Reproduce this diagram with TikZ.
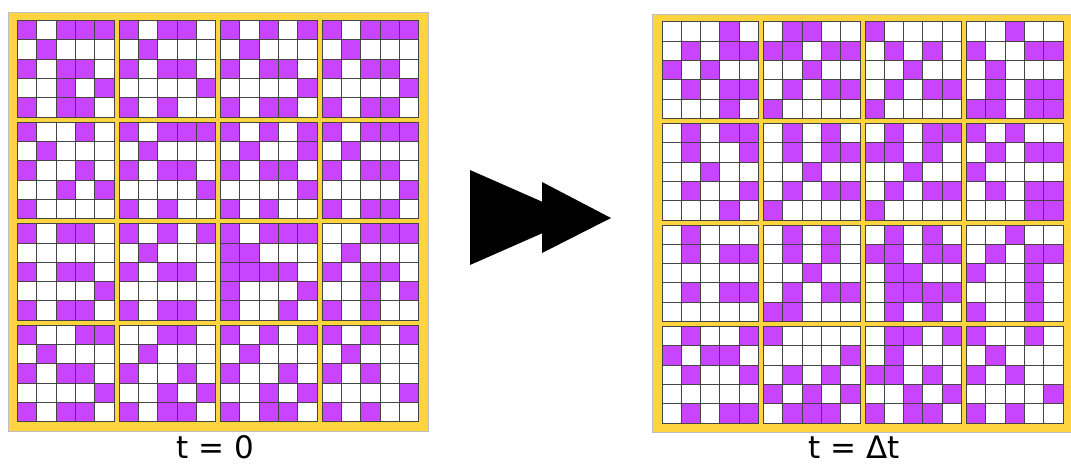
\documentclass[tikz,border=0pt]{standalone}
\usepackage{fontspec}
\setmainfont{DejaVu Sans}
\usepackage{tikz}
\usetikzlibrary{positioning,calc}
\definecolor{mauve}{HTML}{C944FF}
\definecolor{frame}{HTML}{FFD43F}
\definecolor{cellrule}{HTML}{444444}

\begin{document}
\begin{tikzpicture}[x=0.5pt, y=-0.5pt,
  cell/.style={draw=cellrule, line width=0.5pt},
  label/.style={font=\fontsize{15.5}{18}\selectfont, anchor=base, inner sep=0pt}]
\useasboundingbox (0,0) rectangle (1071,465);

% ---------- grid at t = 0
\fill[frame, draw=black!25, line width=0.4pt] (8,12) rectangle (428,431);
\begin{scope}[shift={(17.6,20.7)}]
  \foreach \row [count=\r, evaluate=\r as \yy using {(\r-1)*19.3+5*floor((\r-1)/5)}] in {
    {1,0,1,1,1, 1,0,1,1,0, 1,0,1,0,1, 1,0,1,1,1},
    {0,1,0,0,0, 0,1,0,0,0, 0,1,0,0,0, 0,1,0,0,0},
    {1,0,1,1,0, 1,0,1,1,0, 1,0,1,1,0, 1,0,1,1,0},
    {0,0,1,0,1, 0,0,0,0,1, 0,0,0,0,1, 0,0,0,0,1},
    {1,0,1,1,0, 1,0,1,0,0, 1,0,1,1,0, 1,0,1,1,0},
    {1,0,0,1,0, 1,0,1,1,1, 1,0,1,0,1, 1,0,1,1,1},
    {0,1,0,0,0, 0,1,0,0,0, 0,1,0,0,1, 0,1,0,0,0},
    {1,0,0,1,0, 1,0,1,1,0, 1,0,1,1,0, 1,0,1,1,0},
    {0,0,1,0,1, 0,0,0,0,1, 0,0,0,0,1, 0,0,0,0,1},
    {1,0,0,0,0, 1,0,1,0,0, 1,0,1,0,0, 1,0,1,1,0},
    {1,0,1,1,0, 1,0,1,0,1, 1,0,1,1,1, 0,0,1,1,1},
    {0,0,0,0,0, 0,1,0,0,0, 1,1,0,0,0, 0,1,0,0,0},
    {1,0,1,1,0, 1,0,1,1,0, 1,1,1,1,0, 1,0,1,1,0},
    {0,0,0,0,1, 0,0,0,0,0, 1,0,0,0,1, 0,0,1,0,1},
    {1,0,1,1,0, 1,0,1,1,0, 1,0,0,1,0, 1,0,1,0,0},
    {1,0,0,1,1, 0,0,1,1,0, 1,0,1,0,1, 1,0,1,0,1},
    {0,1,0,0,0, 0,1,0,0,0, 0,1,0,0,0, 0,1,0,0,0},
    {1,0,1,1,0, 1,0,0,1,0, 1,0,0,1,0, 1,0,1,0,0},
    {0,0,0,0,1, 0,0,1,0,1, 0,0,1,0,1, 0,0,0,0,1},
    {1,0,1,1,0, 1,0,1,1,0, 1,0,1,1,0, 1,0,1,0,0}}{
    \foreach \v [count=\c, evaluate=\c as \xx using {(\c-1)*19.3+5*floor((\c-1)/5)}] in \row {
      \draw[cell, fill=mauve!\v00!white] (\xx,\yy) rectangle ++(19.3,19.3); }
  }
\end{scope}
\node[label] (tzero) at (215,458) {t = 0};

% ---------- double arrow
\fill[black] (470,170) -- (470,265) -- (578,217.5) -- cycle;
\fill[black] (542,182) -- (542,253) -- (611,218) -- cycle;

% ---------- grid at t = dt
\fill[frame, draw=black!25, line width=0.4pt] (652,14) rectangle (1071,432);
\begin{scope}[shift={(662,22)}]
  \foreach \row [count=\r, evaluate=\r as \yy using {(\r-1)*19.3+5*floor((\r-1)/5)}] in {
    {0,0,0,1,0, 0,1,1,0,0, 1,0,0,0,0, 0,0,1,0,0},
    {0,1,0,1,1, 1,1,0,1,1, 0,1,0,1,0, 1,0,0,1,1},
    {1,0,1,0,0, 0,0,1,0,0, 0,0,1,0,0, 0,1,0,0,0},
    {0,1,0,1,1, 0,1,0,1,1, 0,1,0,1,1, 0,1,0,1,1},
    {0,0,0,1,0, 1,0,0,0,0, 1,0,0,0,0, 1,1,0,1,1},
    {0,1,0,1,1, 0,1,0,1,0, 0,1,0,1,1, 1,0,1,0,0},
    {0,1,0,0,1, 0,1,0,1,1, 1,1,0,1,0, 0,1,0,1,1},
    {0,0,1,0,0, 0,0,1,0,0, 0,0,1,0,0, 1,0,0,0,0},
    {0,1,0,0,1, 0,1,0,1,1, 0,1,0,1,1, 0,1,0,1,1},
    {0,0,0,1,0, 1,0,0,0,0, 1,0,0,0,0, 0,0,0,1,1},
    {0,1,0,0,0, 0,1,0,1,0, 0,1,0,1,0, 0,0,1,0,0},
    {0,1,0,1,1, 0,1,0,1,0, 1,1,0,1,1, 0,1,0,1,1},
    {0,0,0,0,0, 0,0,1,0,0, 0,1,1,0,0, 1,0,0,1,0},
    {0,1,0,1,1, 0,1,0,1,1, 0,1,1,1,1, 0,0,0,1,0},
    {0,0,0,0,0, 1,1,0,0,0, 0,1,0,1,0, 1,0,0,1,0},
    {0,1,0,0,1, 1,0,0,0,0, 0,1,1,0,1, 1,0,0,1,0},
    {1,0,1,1,0, 0,0,0,0,1, 0,1,0,0,0, 0,1,0,0,0},
    {0,1,0,0,1, 0,1,0,1,0, 1,1,0,1,0, 1,0,1,0,0},
    {0,0,0,0,0, 1,0,1,0,1, 0,0,1,0,1, 0,0,0,0,1},
    {0,1,0,1,1, 0,1,1,1,0, 1,0,1,1,0, 1,0,1,0,0}}{
    \foreach \v [count=\c, evaluate=\c as \xx using {(\c-1)*19.3+5*floor((\c-1)/5)}] in \row {
      \draw[cell, fill=mauve!\v00!white] (\xx,\yy) rectangle ++(19.3,19.3); }
  }
\end{scope}
\node[label] (tdelta) at (854,458) {t = Δt};

\end{tikzpicture}
\end{document}
